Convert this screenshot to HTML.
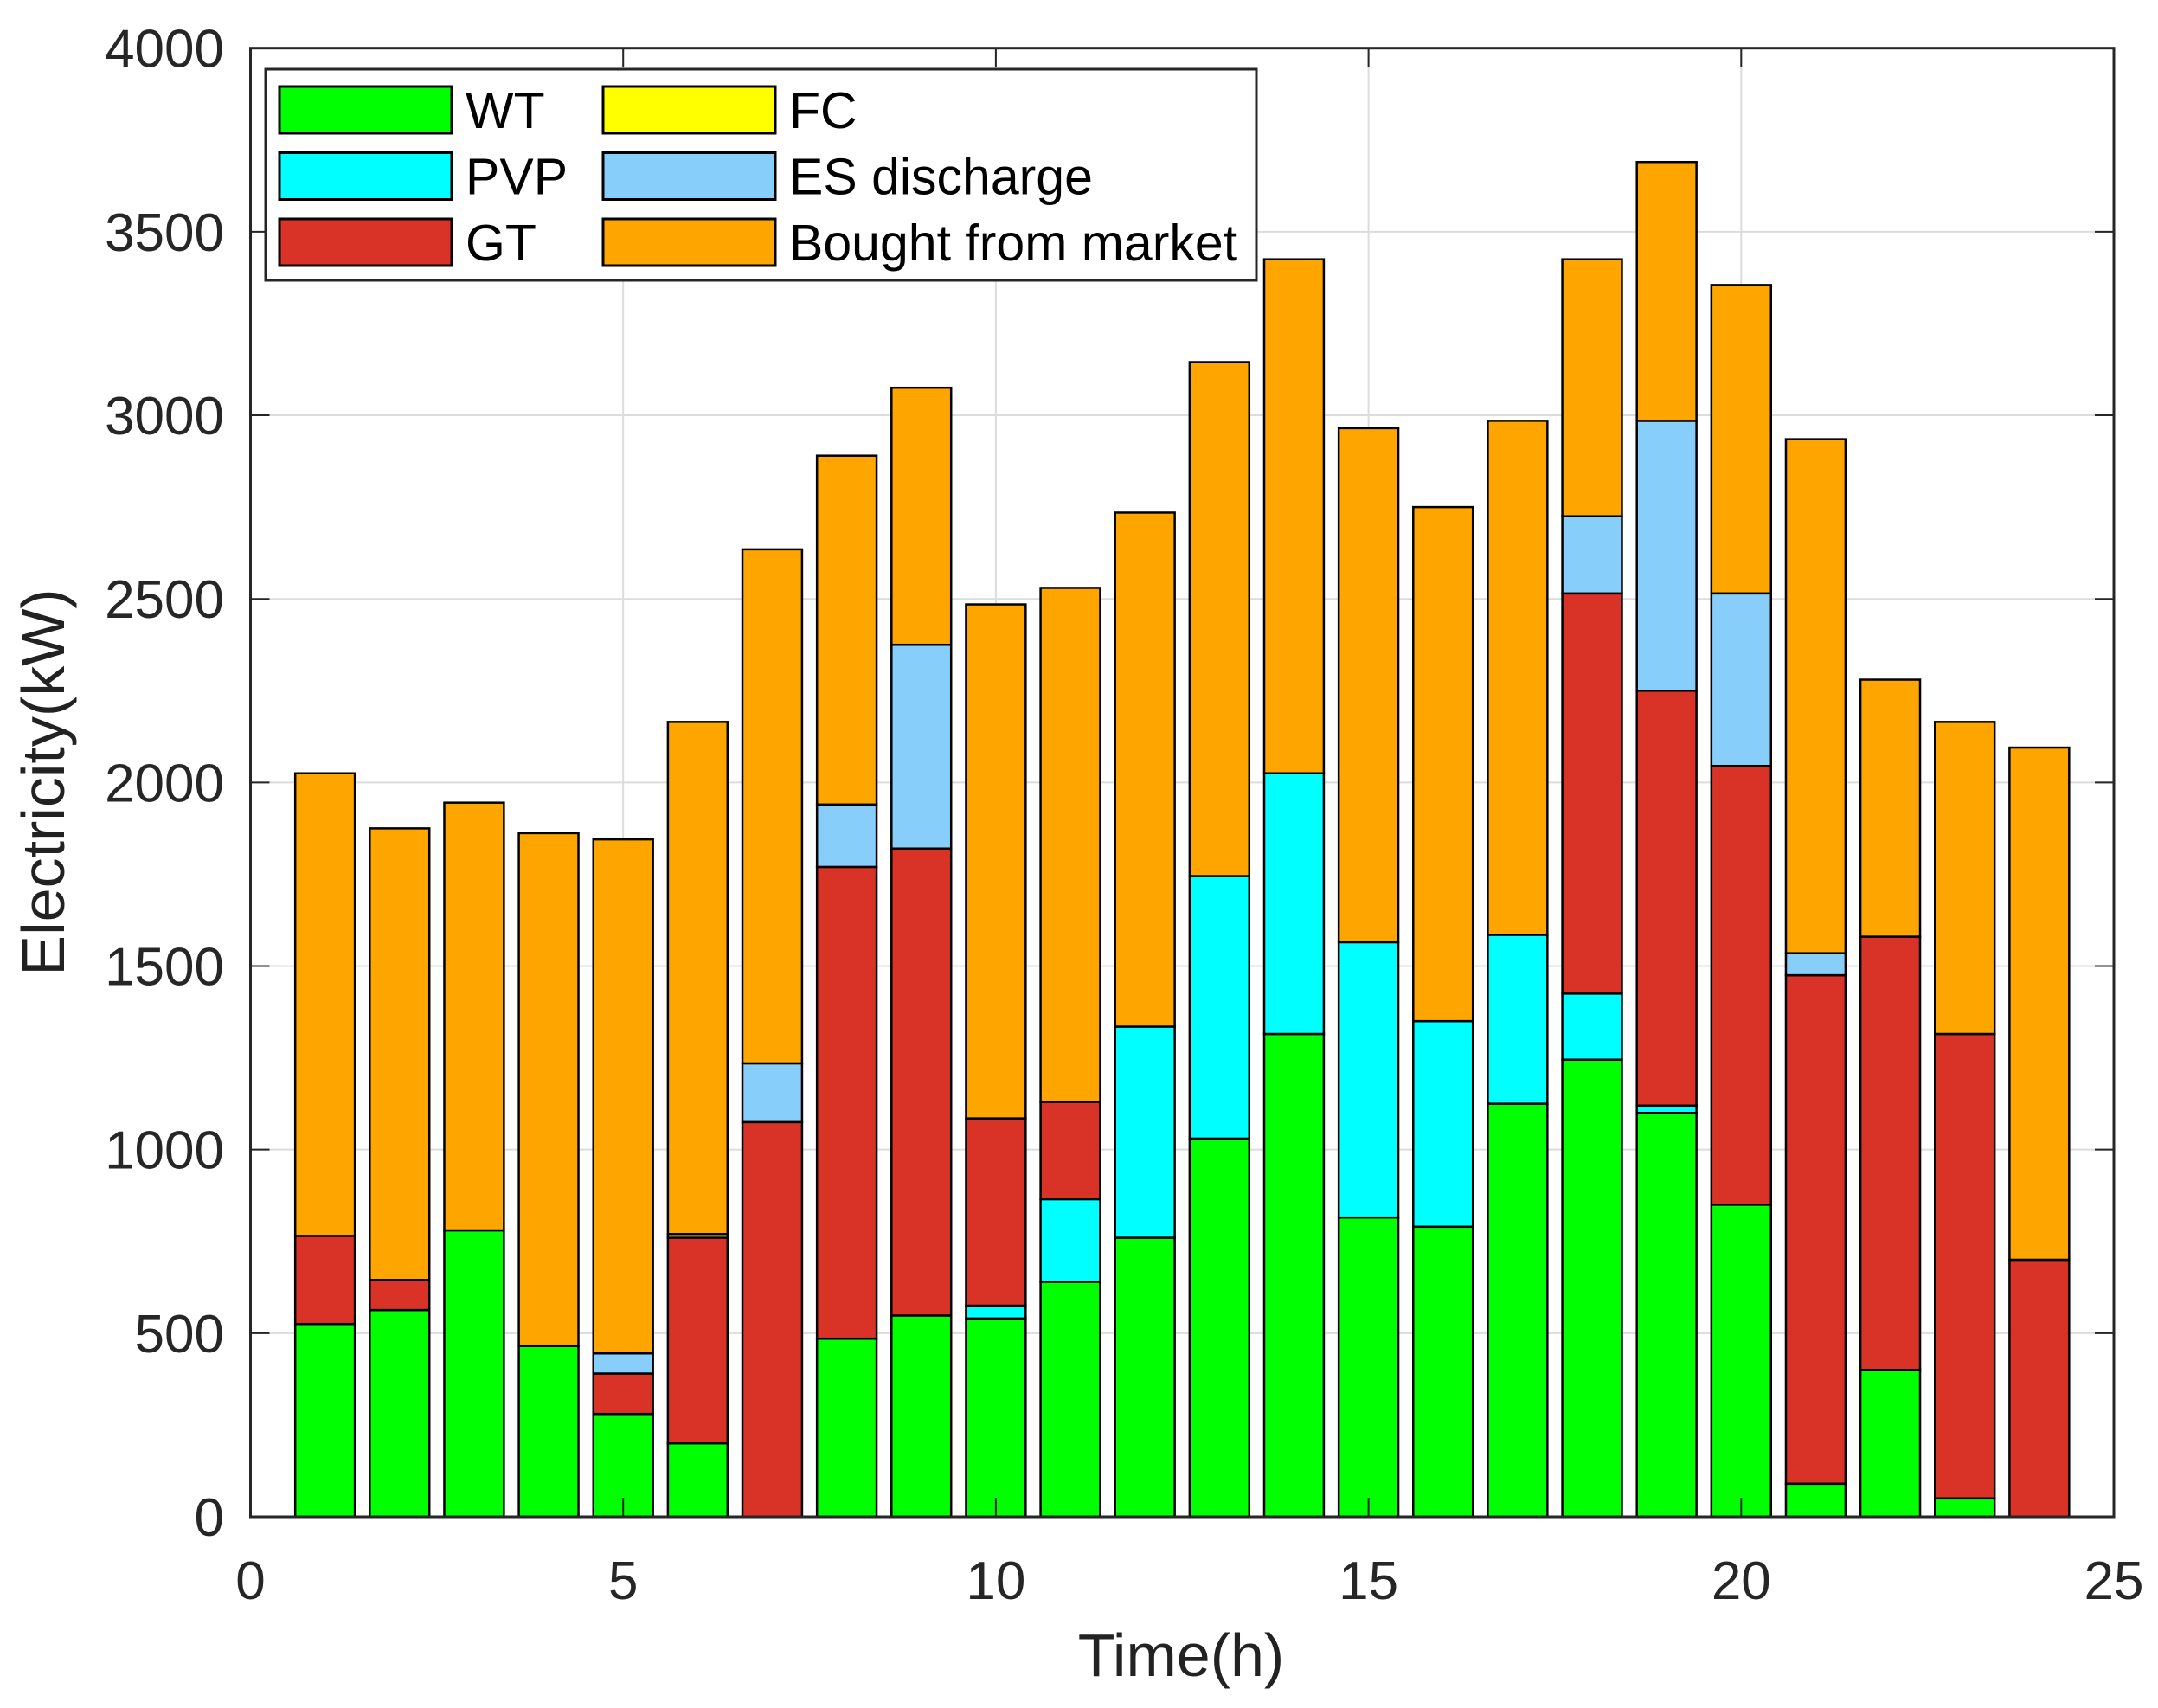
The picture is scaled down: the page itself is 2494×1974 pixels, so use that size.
<!DOCTYPE html>
<html><head><meta charset="utf-8"><style>
html,body{margin:0;padding:0;background:#fff;}
svg{display:block;font-family:"Liberation Sans",Arial,sans-serif;}
</style></head><body>
<svg id="chart" width="2494" height="1974" viewBox="0 0 2494 1974" xmlns="http://www.w3.org/2000/svg">
<rect x="0" y="0" width="2494" height="1974" fill="#fff"/>
<g id="grid"></g>
<g id="bars"></g>
<g id="axes"></g>
<text x="1365" y="1937" font-size="70" text-anchor="middle" fill="#222">Time(h)</text>
<text transform="translate(74,904) rotate(-90)" font-size="70" text-anchor="middle" fill="#222">Electricity(kW)</text>
<g id="legend"></g>
</svg>
<script>
const hours = [1,2,3,4,5,6,7,8,9,10,11,12,13,14,15,16,17,18,19,20,21,22,23,24];
const seriesNames = ["WT","PVP","GT","FC","ES discharge","Bought from market"];
const seriesColors = ["#00ff00","#00ffff","#d93226","#ffff00","#87cefa","#ffa500"];
const wt  = [525,563,780,465,280,200,0,485,548,540,640,760,1030,1315,815,790,1125,1245,1100,850,90,400,50,0];
const pvp = [0,0,0,0,0,0,0,0,0,35,225,575,715,710,750,560,460,180,20,0,0,0,0,0];
const gt  = [240,82,0,0,110,560,1075,1285,1272,510,265,0,0,0,0,0,0,1090,1130,1195,1385,1180,1265,700];
const fc  = [0,0,0,0,0,10,0,0,0,0,0,0,0,0,0,0,0,0,0,0,0,0,0,0];
const es  = [0,0,0,0,55,0,160,170,555,0,0,0,0,0,0,0,0,210,735,470,60,0,0,0];
const market = [1260,1230,1165,1397,1400,1395,1400,950,700,1400,1400,1400,1400,1400,1400,1400,1400,700,705,840,1400,700,850,1395];
const xTicks = [0,5,10,15,20,25];
const yTicks = [0,500,1000,1500,2000,2500,3000,3500,4000];

const L=289.5,R=2443,T=55.7,B=1753;
const xs = v => L + (v/25)*(R-L);
const ys = v => B - (v/4000)*(B-T);
const NS="http://www.w3.org/2000/svg";
function mk(tag, attrs, parent){const e=document.createElementNS(NS,tag);for(const k in attrs)e.setAttribute(k,attrs[k]);parent.appendChild(e);return e;}
const grid=document.getElementById('grid'),bars=document.getElementById('bars'),axes=document.getElementById('axes'),legend=document.getElementById('legend');

xTicks.forEach(t=>{ if(t>0&&t<25){const g=mk('line',{x1:xs(t),x2:xs(t),y1:T,y2:B,stroke:'#dcdcdc','stroke-width':2},grid);

}});
yTicks.forEach(t=>{ if(t>0&&t<4000){const g=mk('line',{x1:L,x2:R,y1:ys(t),y2:ys(t),stroke:'#dcdcdc','stroke-width':2},grid);

}});

const series=[wt,pvp,gt,fc,es,market];
const bw=0.8;
hours.forEach((h,i)=>{
  let base=0;
  series.forEach((s,k)=>{
    const v=s[i];
    if(v<=0) return;
    const r=mk('rect',{x:xs(h-bw/2),y:ys(base+v),width:xs(h+bw/2)-xs(h-bw/2),height:ys(base)-ys(base+v),fill:seriesColors[k],stroke:'#000','stroke-width':2.5},bars);
    
    
    base+=v;
  });
});

const frame=mk('rect',{x:L,y:T,width:R-L,height:B-T,fill:'none',stroke:'#262626','stroke-width':3},axes);


xTicks.forEach(t=>{
  mk('line',{x1:xs(t),x2:xs(t),y1:B,y2:B-22,stroke:'#262626','stroke-width':2},axes);
  mk('line',{x1:xs(t),x2:xs(t),y1:T,y2:T+22,stroke:'#262626','stroke-width':2},axes);
  const tx=mk('text',{x:xs(t),y:1848,'font-size':62,'text-anchor':'middle',fill:'#262626'},axes);
  tx.textContent=t;
  
  
});
yTicks.forEach(t=>{
  mk('line',{x1:L,x2:L+22,y1:ys(t),y2:ys(t),stroke:'#262626','stroke-width':2},axes);
  mk('line',{x1:R,x2:R-22,y1:ys(t),y2:ys(t),stroke:'#262626','stroke-width':2},axes);
  const tx=mk('text',{x:259,y:ys(t)+22,'font-size':62,'text-anchor':'end',fill:'#262626'},axes);
  tx.textContent=t;
  
  
});

const lb=mk('rect',{x:307,y:80,width:1145,height:244,fill:'#fff',stroke:'#262626','stroke-width':3},legend);


const order=[[0,0,0],[3,1,0],[1,0,1],[4,1,1],[2,0,2],[5,1,2]];
order.forEach(([k,c,r])=>{
  const sx=c?697:323, cy=127+r*76.5;
  const g=mk('g',{},legend);
  
  
  mk('rect',{x:sx,y:cy-27,width:199,height:54,fill:seriesColors[k],stroke:'#000','stroke-width':3},g);
  const t=mk('text',{x:sx+215,y:cy+21,'font-size':59,fill:'#000'},g);
  t.textContent=seriesNames[k];
});
</script>
</body></html>
